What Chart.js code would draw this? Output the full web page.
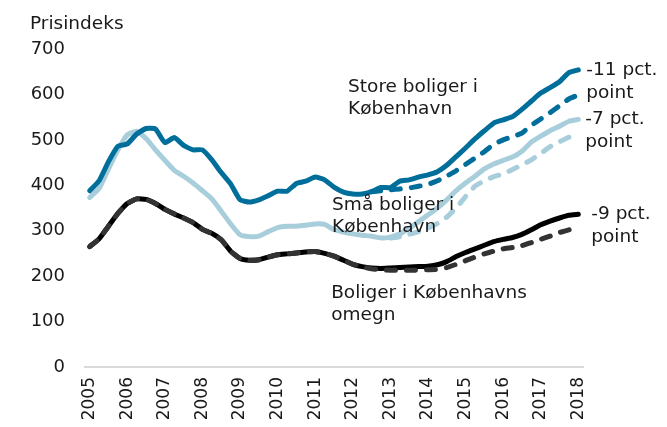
<!DOCTYPE html>
<html>
<head>
<meta charset="utf-8">
<script src="https://cdn.jsdelivr.net/npm/chart.js@4.4.1/dist/chart.umd.min.js"></script>
<style>
  html, body { margin: 0; padding: 0; background: #fff; }
  .graph-card { width: 667px; height: 427px; position: relative; }
</style>
</head>
<body>
<div class="graph-card"><canvas id="graph-prisindeks"></canvas></div>
<script>
const years = [2005, 2006, 2007, 2008, 2009, 2010, 2011, 2012, 2013, 2014, 2015, 2016, 2017, 2018];

// quarterly labels, 2005K1 .. 2018K1
const quarters = [];
years.forEach((y) => {
  ["K1", "K2", "K3", "K4"].forEach((q) => {
    if (y < 2018 || q === "K1") quarters.push(y + q);
  });
});

const storeKbh = [
  388, 410, 452, 486, 491, 513, 525, 524, 494, 505,
  488, 478, 478, 456, 428, 403, 368, 363, 368, 377,
  387, 387, 404, 409, 418, 412, 396, 385, 381, 381,
  386, 395, 395, 409, 412, 418, 423, 430, 444, 463,
  482, 502, 520, 537, 544, 551, 567, 585, 603, 615,
  628, 648, 654,
];
const storeKbhAlt = [
  null, null, null, null, null, null, null, null, null, null,
  null, null, null, null, null, null, null, null, null, null,
  null, null, null, null, null, null, null, null, null, null,
  386, 388, 390, 392, 394, 398, 402, 410, 420, 432,
  446, 460, 474, 490, 500, 507, 515, 532, 546, 560,
  575, 590, 599,
];
const smaaKbh = [
  373, 393, 436, 478, 511, 519, 503, 478, 455, 433,
  420, 405, 388, 370, 343, 315, 291, 287, 288, 298,
  307, 310, 310, 312, 315, 314, 302, 297, 293, 290,
  288, 284, 286, 293, 305, 320, 335, 350, 368, 388,
  405, 420, 436, 447, 455, 462, 475, 495, 508, 520,
  530, 541, 545,
];
const smaaKbhAlt = [
  null, null, null, null, null, null, null, null, null, null,
  null, null, null, null, null, null, null, null, null, null,
  null, null, null, null, null, null, null, null, null, null,
  null, null, 284, 287, 292, 298, 306, 316, 330, 350,
  375, 398, 410, 419, 425, 435, 445, 456, 470, 485,
  496, 506, 514,
];
const omegn = [
  265, 282, 310, 338, 360, 370, 369, 360, 347, 337,
  328, 318, 303, 294, 280, 255, 239, 235, 236, 242,
  247, 249, 251, 253, 254, 250, 244, 235, 226, 221,
  218, 217, 218, 219, 220, 221, 222, 225, 232, 243,
  252, 260, 268, 276, 281, 285, 292, 302, 313, 321,
  328, 334, 336,
];
const omegnAlt = [
  265, 282, 310, 338, 360, 370, 369, 360, 347, 337,
  328, 318, 303, 294, 280, 255, 239, 235, 236, 242,
  247, 249, 251, 253, 254, 250, 244, 235, 226, 221,
  216, 214, 213, 213, 213, 213, 214, 215, 219, 226,
  234, 242, 249, 255, 260, 263, 267, 274, 281, 288,
  296, 302, 306,
];
const yTicks = [0, 100, 200, 300, 400, 500, 600, 700];

const blue = "#006E9A";
const lightBlue = "#A8CEDB";
const black = "#000000";
const darkGrey = "#333333";
const textColor = "#1a1a1a";
const fontFamily = "'DejaVu Sans', sans-serif";

// series labels placed in data coordinates
const notes = [
  { lines: ["Store boliger i", "København"], at: [27.5, 616] },
  { lines: ["Små boliger i", "København"], at: [25.8, 357] },
  { lines: ["Boliger i Københavns", "omegn"], at: [25.7, 163] },
];
// labels hanging off the end of a solid line
const endNotes = [
  { dataset: 0, lines: ["-11 pct.", "point"], dx: 8 },
  { dataset: 2, lines: ["-7 pct.", "point"], dx: 7 },
  { dataset: 5, lines: ["-9 pct.", "point"], dx: 13 },
];

const notesPlugin = {
  id: "notes",
  afterDraw(chart) {
    const { ctx, scales } = chart;
    ctx.save();
    ctx.fillStyle = textColor;
    ctx.font = "18.5px " + fontFamily;
    ctx.textAlign = "left";
    ctx.textBaseline = "middle";
    ctx.fillText("Prisindeks", 30, 24);
    notes.forEach((n) => {
      const x = scales.x.getPixelForValue(n.at[0]);
      const y = scales.y.getPixelForValue(n.at[1]);
      n.lines.forEach((line, i) => ctx.fillText(line, x, y + i * 22));
    });
    endNotes.forEach((n) => {
      const pts = chart.getDatasetMeta(n.dataset).data;
      const last = pts[pts.length - 1];
      n.lines.forEach((line, i) => ctx.fillText(line, last.x + n.dx, last.y + i * 23));
    });
    ctx.restore();
  },
};

function line(data, color, order, dashed) {
  return {
    data: data,
    borderColor: color,
    borderWidth: 5,
    borderDash: dashed ? [9, 11] : [],
    borderCapStyle: "round",
    borderJoinStyle: "round",
    pointRadius: 0,
    tension: 0.15,
    fill: false,
    order: order,
  };
}

Chart.register(notesPlugin);
const context = document.getElementById("graph-prisindeks");
new Chart(context, {
  type: "line",
  data: {
    labels: quarters,
    datasets: [
      line(storeKbh, blue, 1, false),
      line(storeKbhAlt, blue, 2, true),
      line(smaaKbh, lightBlue, 3, false),
      line(smaaKbhAlt, lightBlue, 4, true),
      line(omegnAlt, darkGrey, 5, true),
      line(omegn, black, 6, false),
    ],
  },
  options: {
    responsive: true,
    maintainAspectRatio: false,
    animation: false,
    layout: { padding: { top: 49, right: 84, left: 0, bottom: 0 } },
    plugins: {
      legend: { display: false },
      tooltip: { enabled: false },
    },
    scales: {
      x: {
        type: "category",
        offset: true,
        grid: { display: false, drawTicks: false },
        border: { display: true, color: "#d9d9d9", width: 2 },
        ticks: {
          autoSkip: false,
          minRotation: 90,
          maxRotation: 90,
          padding: 10,
          color: textColor,
          font: { family: fontFamily, size: 17 },
          callback: (v, i) => (i % 4 === 0 ? String(years[i / 4]) : ""),
        },
        afterFit: (scale) => { scale.height = 60; },
      },
      y: {
        min: 0,
        max: 700,
        grid: { display: false, drawTicks: false },
        border: { display: false },
        afterBuildTicks: (scale) => { scale.ticks = yTicks.map((v) => ({ value: v })); },
        ticks: {
          padding: 20,
          color: textColor,
          font: { family: fontFamily, size: 18 },
        },
        afterFit: (scale) => { scale.width = 85; },
      },
    },
  },
});
</script>
</body>
</html>
